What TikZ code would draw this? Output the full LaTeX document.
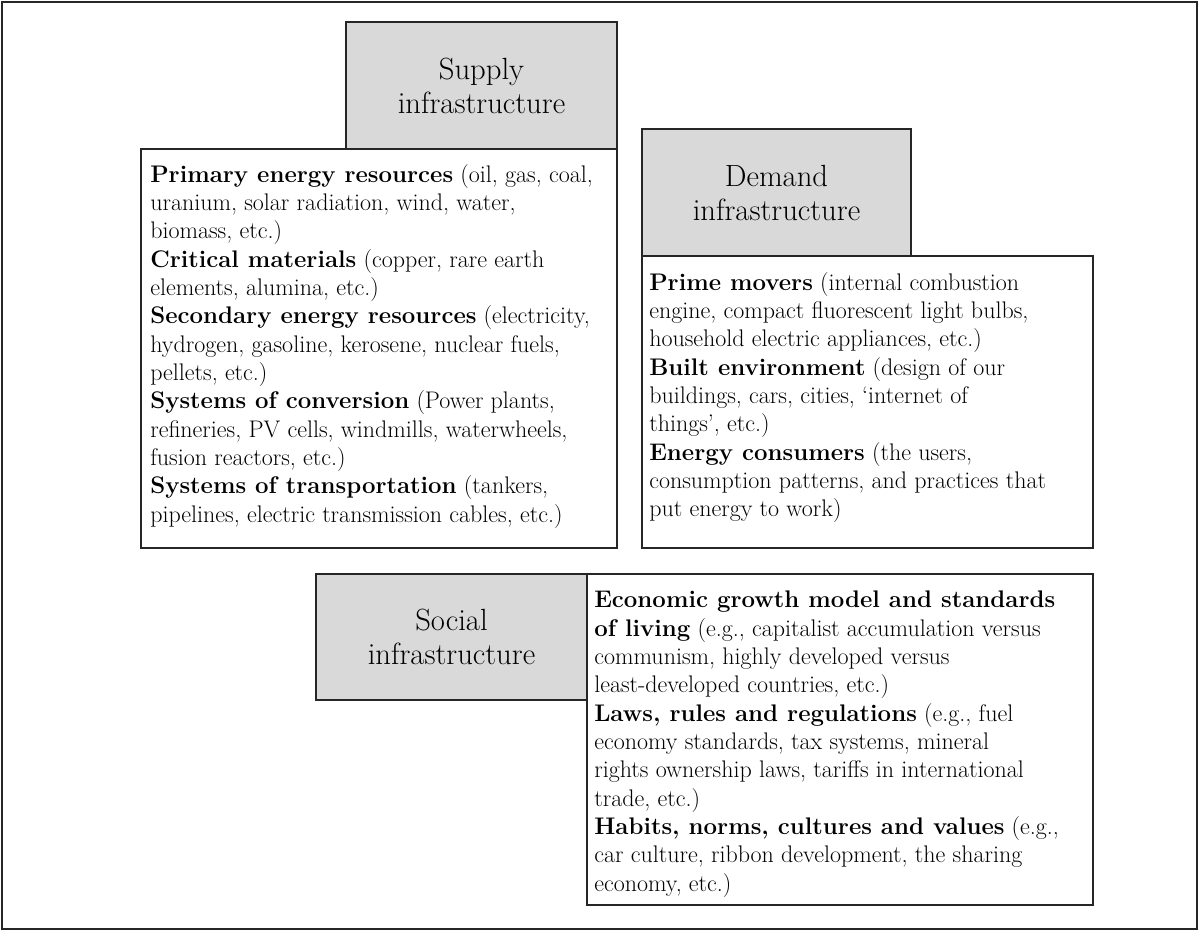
\documentclass[tikz,border=0pt]{standalone}
\usepackage{tikz}

\definecolor{hdrgray}{RGB}{217,217,217}

\tikzset{
  hdrbox/.style={draw=black!85, fill=hdrgray, line width=1pt},
  bodybox/.style={draw=black!85, fill=white, line width=1pt},
  hdrtext/.style={align=center, inner sep=0pt, font=\fontsize{23}{25.5}\selectfont},
  bodytext/.style={anchor=north west, align=left, inner sep=0pt, font=\fontsize{18}{21.25}\selectfont}
}

\begin{document}
\begin{tikzpicture}[x=0.75pt,y=0.75pt,yscale=-1,xscale=1]
\useasboundingbox (0,0) rectangle (1199,932);

%Frame
\draw [line width=1pt, draw=black!85] (2,2) rectangle (1197,929);

%Supply
\draw [bodybox] (141,149) rectangle (617,548);
\draw [hdrbox] (346,22) rectangle (617,149);
\node [hdrtext] (supplyhdr) at (481.5,86) {Supply\\infrastructure};
\node [bodytext] (supplytxt) at (150,164) {\textbf{Primary energy resources} (oil, gas, coal,\\
uranium, solar radiation, wind, water,\\
biomass, etc.)\\
\textbf{Critical materials} (copper, rare earth\\
elements, alumina, etc.)\\
\textbf{Secondary energy resources} (electricity,\\
hydrogen, gasoline, kerosene, nuclear fuels,\\
pellets, etc.)\\
\textbf{Systems of conversion} (Power plants,\\
refineries, PV cells, windmills, waterwheels,\\
fusion reactors, etc.)\\
\textbf{Systems of transportation} (tankers,\\
pipelines, electric transmission cables, etc.)};

%Demand
\draw [bodybox] (642,256) rectangle (1093,548);
\draw [hdrbox] (642,129) rectangle (911,256);
\node [hdrtext] (demandhdr) at (776.5,193) {Demand\\infrastructure};
\node [bodytext] (demandtxt) at (649,272) {\textbf{Prime movers} (internal combustion\\
engine, compact fluorescent light bulbs,\\
household electric appliances, etc.)\\
\textbf{Built environment} (design of our\\
buildings, cars, cities, ‘internet of\\
things’, etc.)\\
\textbf{Energy consumers} (the users,\\
consumption patterns, and practices that\\
put energy to work)};

%Social
\draw [bodybox] (587,574) rectangle (1093,905);
\draw [hdrbox] (316,574) rectangle (587,700);
\node [hdrtext] (socialhdr) at (451.5,637) {Social\\infrastructure};
\node [bodytext] (socialtxt) at (594,591) {\textbf{Economic growth model and standards}\\
\textbf{of living} (e.g., capitalist accumulation versus\\
communism, highly developed versus\\
least-developed countries, etc.)\\
\textbf{Laws, rules and regulations} (e.g., fuel\\
economy standards, tax systems, mineral\\
rights ownership laws, tariffs in international\\
trade, etc.)\\
\textbf{Habits, norms, cultures and values} (e.g.,\\
car culture, ribbon development, the sharing\\
economy, etc.)};

\end{tikzpicture}
\end{document}
